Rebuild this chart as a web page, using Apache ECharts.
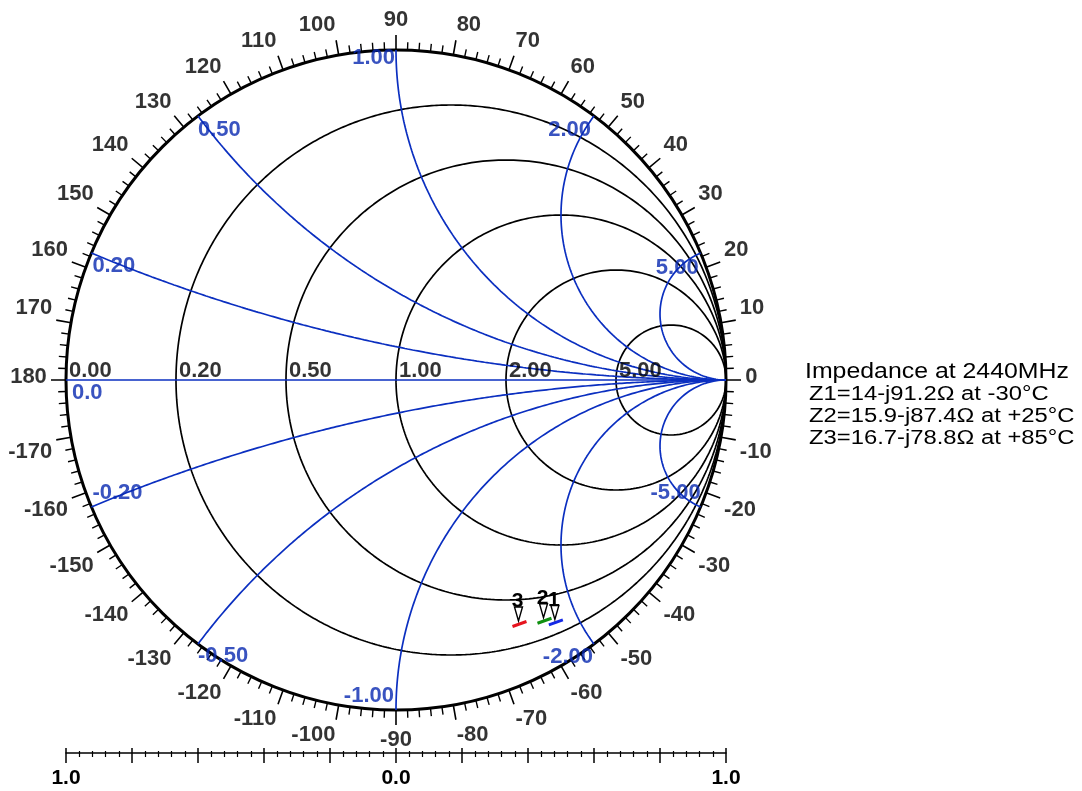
<!DOCTYPE html>
<html><head><meta charset="utf-8">
<script src="https://cdn.jsdelivr.net/npm/echarts@6/dist/echarts.min.js"></script>
<style>html,body{margin:0;padding:0;background:#fff}#c{width:1082px;height:791px}</style>
</head><body><div id="c"></div>
<script>
// ---------- data ----------
const Z0 = 50;
const resistanceValues = [0, 0.2, 0.5, 1, 2, 5];
const resistanceLabels = ['0.00', '0.20', '0.50', '1.00', '2.00', '5.00'];
const reactanceValues = [0.2, 0.5, 1, 2, 5, -0.2, -0.5, -1, -2, -5];
const reactanceLabels = ['0.20', '0.50', '1.00', '2.00', '5.00', '-0.20', '-0.50', '-1.00', '-2.00', '-5.00'];
const zeroReactanceLabel = '0.0';
const angleTicks = [0,10,20,30,40,50,60,70,80,90,100,110,120,130,140,150,160,170,180,190,200,210,220,230,240,250,260,270,280,290,300,310,320,330,340,350];
const angleTickLabels = ['0','10','20','30','40','50','60','70','80','90','100','110','120','130','140','150','160','170','180','-170','-160','-150','-140','-130','-120','-110','-100','-90','-80','-70','-60','-50','-40','-30','-20','-10'];
const longTickAngles = [0, 180];
const scaleTickLabels = {'-1': '1.0', '0': '0.0', '1': '1.0'};
const impedanceR = [14, 15.9, 16.7];
const impedanceX = [-91.2, -87.4, -78.8];
const markerNames = ['1', '2', '3'];
const markerColors = ['#1428e6', '#109010', '#e6141e'];
const legendTitle = 'Impedance at 2440MHz';
const legendLines = ['Z1=14-j91.2\u03A9 at -30\u00B0C', 'Z2=15.9-j87.4\u03A9 at +25\u00B0C', 'Z3=16.7-j78.8\u03A9 at +85\u00B0C'];

// ---------- styles ----------
const BLUE = '#0b2fc0';
const BLUE_TXT = '#0828b0';
const FONT = '"Liberation Sans", Arial, sans-serif';
const LBL = 22;
// placement of reactance labels: [align, verticalAlign, dx, dy]
const reactancePlacement = {
  '0.2': ['left', 'top', 1, 2], '0.5': ['left', 'top', 0, 3], '1': ['right', 'top', -1, -3],
  '2': ['right', 'top', -3, 3], '5': ['right', 'top', -2, 4],
  '-0.2': ['left', 'bottom', 1, -3], '-0.5': ['left', 'top', 0, 1], '-1': ['right', 'bottom', -2, -3],
  '-2': ['right', 'top', -1, 2], '-5': ['right', 'bottom', 0, -3]
};

// ---------- geometry helpers ----------
function gamma(r, x) {
  const den = (r + 1) * (r + 1) + x * x;
  return [(r * r - 1 + x * x) / den, (2 * x) / den];
}
function rCircle(r) {
  const c = r / (1 + r), rad = 1 / (1 + r), pts = [];
  for (let i = 0; i <= 720; i++) {
    const a = i * Math.PI / 360;
    pts.push([c + rad * Math.cos(a), rad * Math.sin(a)]);
  }
  return pts;
}
function xArc(x) {
  const ax = Math.abs(x), rad = 1 / ax, g0 = gamma(0, ax);
  let p0 = Math.atan2(g0[1] - rad, g0[0] - 1);
  if (p0 < Math.PI / 2 - 1e-9) p0 += 2 * Math.PI;
  const p1 = 1.5 * Math.PI, n = 500, pts = [];
  for (let i = 0; i <= n; i++) {
    const a = p0 + (p1 - p0) * i / n;
    const px = 1 + rad * Math.cos(a), py = rad + rad * Math.sin(a);
    pts.push([px, x > 0 ? py : -py]);
  }
  return pts;
}

const series = [];
resistanceValues.slice(1).forEach(r => series.push({
  type: 'line', xAxisIndex: 0, yAxisIndex: 0, data: rCircle(r), showSymbol: false, symbol: 'none',
  lineStyle: { color: '#000', width: 1.7 }, silent: true, z: 3
}));
reactanceValues.forEach(x => series.push({
  type: 'line', xAxisIndex: 0, yAxisIndex: 0, data: xArc(x), showSymbol: false, symbol: 'none',
  lineStyle: { color: BLUE, width: 1.7 }, silent: true, z: 4
}));
series.push({
  type: 'line', xAxisIndex: 0, yAxisIndex: 0, data: [[-1, 0], [1, 0]], showSymbol: false, symbol: 'none',
  lineStyle: { color: BLUE, width: 1.7 }, silent: true, z: 4
});
// long ticks at 0 and 180 degrees
longTickAngles.forEach(a => series.push({
  type: 'line', coordinateSystem: 'polar', polarIndex: 0, data: [[1, a], [1.056, a]], showSymbol: false, symbol: 'none',
  lineStyle: { color: '#000', width: 1.6 }, silent: true, clip: false, z: 4
}));
// resistance labels
series.push({
  type: 'scatter', xAxisIndex: 0, yAxisIndex: 0, symbolSize: 1, itemStyle: { color: 'rgba(0,0,0,0)' }, clip: false, z: 6,
  data: resistanceValues.map((r, i) => ({ value: [(r - 1) / (r + 1), 0], name: resistanceLabels[i] })),
  label: { show: true, position: 'inside', align: 'left', verticalAlign: 'bottom', offset: [3, 2],
    formatter: p => p.name, color: '#000', fontFamily: FONT, fontWeight: 'bold', fontSize: LBL }
});
// reactance labels
series.push({
  type: 'scatter', xAxisIndex: 0, yAxisIndex: 0, symbolSize: 1, itemStyle: { color: 'rgba(0,0,0,0)' }, clip: false, z: 6,
  data: reactanceValues.map((x, i) => {
    const pl = reactancePlacement[String(x)];
    return { value: gamma(0, x), name: reactanceLabels[i],
      label: { align: pl[0], verticalAlign: pl[1], offset: [pl[2], pl[3]] } };
  }).concat([{ value: [-1, 0], name: zeroReactanceLabel, label: { align: 'left', verticalAlign: 'top', offset: [6, 2] } }]),
  label: { show: true, position: 'inside', formatter: p => p.name, color: BLUE_TXT, fontFamily: FONT, fontWeight: 'bold', fontSize: LBL }
});
// angle tick labels (polar)
function anglePlacement(a) {
  if (a === 0) return ['left', 'middle', 0, -3];
  if (a === 180) return ['right', 'middle', 0, -3];
  if (a === 90) return ['center', 'bottom', 0, 0];
  if (a === 270) return ['center', 'top', 0, 0];
  if (a < 90) return ['left', 'bottom', 0, 0];
  if (a < 180) return ['right', 'bottom', 0, 0];
  if (a < 270) return ['right', 'top', 0, 0];
  return ['left', 'top', 0, 0];
}
series.push({
  type: 'scatter', coordinateSystem: 'polar', polarIndex: 0, symbolSize: 1, itemStyle: { color: 'rgba(0,0,0,0)' }, clip: false, z: 6,
  data: angleTicks.map((a, i) => {
    const pl = anglePlacement(a);
    return { value: [1.058, a], name: angleTickLabels[i], label: { align: pl[0], verticalAlign: pl[1], offset: [pl[2], pl[3]] } };
  }),
  label: { show: true, position: 'inside', formatter: p => p.name, color: '#000', fontFamily: FONT, fontWeight: 'bold', fontSize: LBL }
});
// markers
const markerData = impedanceR.map((R, i) => gamma(R / Z0, impedanceX[i] / Z0).concat([i]));
series.push({
  type: 'custom', coordinateSystem: 'cartesian2d', xAxisIndex: 0, yAxisIndex: 0, z: 10, silent: true,
  data: markerData,
  renderItem: (params, api) => {
    const p = api.coord([api.value(0), api.value(1)]);
    const i = api.value(2);
    return { type: 'group', children: [
      { type: 'line', shape: { x1: p[0] - 7, y1: p[1] + 2.5, x2: p[0] + 7, y2: p[1] - 2.5 }, style: { stroke: markerColors[i], lineWidth: 3 } },
      { type: 'polygon', shape: { points: [[p[0] - 5, p[1] - 17], [p[0] + 3, p[1] - 17], [p[0] - 1, p[1] - 3]] }, style: { fill: '#fff', stroke: '#000', lineWidth: 1.4 } },
      { type: 'text', x: p[0] - 2, y: p[1] - 12, style: { text: markerNames[i], fill: '#000', font: 'bold 21px ' + FONT, align: 'center', verticalAlign: 'bottom' } }
    ] };
  }
});

const chart = echarts.init(document.getElementById('c'), null, { renderer: 'canvas' });
chart.setOption({
  animation: false,
  backgroundColor: '#fff',
  grid: [
    { left: 66, top: 50, width: 660, height: 660 },
    { left: 66, top: 752, width: 660, height: 1 }
  ],
  xAxis: [
    { gridIndex: 0, type: 'value', min: -1, max: 1, show: false },
    { gridIndex: 1, type: 'value', min: -1, max: 1, interval: 0.2, position: 'bottom',
      axisLine: { show: true, lineStyle: { color: '#000', width: 1.5 } },
      axisTick: { show: true, length: 10, lineStyle: { color: '#000', width: 1.5 } },
      minorTick: { show: true, splitNumber: 5, length: 4, lineStyle: { color: '#000', width: 1.2 } },
      splitLine: { show: false },
      axisLabel: { show: true, margin: 15, color: '#000', fontFamily: FONT, fontWeight: 'bold', fontSize: 21,
        showMinLabel: true, showMaxLabel: true,
        formatter: v => { const k = String(Math.round(v * 10) / 10); return scaleTickLabels[k] || ''; } } },
    { gridIndex: 1, type: 'value', min: -1, max: 1, interval: 0.2, position: 'bottom',
      axisLine: { show: false },
      axisTick: { show: true, inside: true, length: 5, lineStyle: { color: '#000', width: 1.5 } },
      minorTick: { show: true, splitNumber: 5, length: 2, lineStyle: { color: '#000', width: 1.2 } },
      splitLine: { show: false }, axisLabel: { show: false } }
  ],
  yAxis: [
    { gridIndex: 0, type: 'value', min: -1, max: 1, show: false },
    { gridIndex: 1, type: 'value', min: 0, max: 1, show: false }
  ],
  polar: { center: [396, 380], radius: 330 },
  angleAxis: {
    type: 'value', min: 0, max: 360, interval: 10, startAngle: 0, clockwise: false,
    axisLine: { show: true, lineStyle: { color: '#000', width: 3 } },
    axisTick: { show: true, length: 15, lineStyle: { color: '#000', width: 1.6 } },
    minorTick: { show: true, splitNumber: 5, length: 8, lineStyle: { color: '#000', width: 1.4 } },
    axisLabel: { show: false }, splitLine: { show: false }, splitArea: { show: false }
  },
  radiusAxis: { type: 'value', min: 0, max: 1, show: false, splitLine: { show: false }, axisLine: { show: false } },
  graphic: [
    { type: 'text', x: 805, y: 372, scaleX: 1.13, style: { text: legendTitle, font: '22px ' + FONT, fill: '#000', verticalAlign: 'middle' } },
    { type: 'text', x: 809, y: 394, scaleX: 1.19, style: { text: legendLines[0], font: '20px ' + FONT, fill: '#000', verticalAlign: 'middle' } },
    { type: 'text', x: 809, y: 416, scaleX: 1.19, style: { text: legendLines[1], font: '20px ' + FONT, fill: '#000', verticalAlign: 'middle' } },
    { type: 'text', x: 809, y: 438, scaleX: 1.19, style: { text: legendLines[2], font: '20px ' + FONT, fill: '#000', verticalAlign: 'middle' } }
  ],
  series: series
});
</script>
</body></html>
